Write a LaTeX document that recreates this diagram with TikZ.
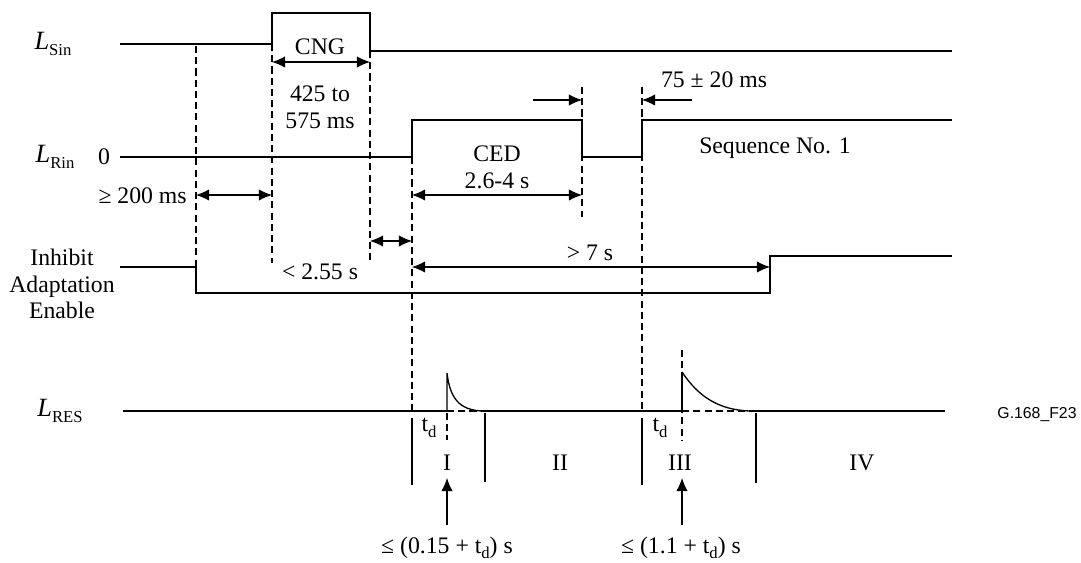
\documentclass[tikz,border=0pt]{standalone}
\usepackage{fontspec}
\setmainfont{Liberation Serif}
\newfontfamily\figsans{Liberation Sans}
\usetikzlibrary{arrows.meta}

\newcommand{\lvl}[2]{\textit{#1}\raisebox{-0.6ex}{\fontsize{9.5}{10}\selectfont #2}}
\newcommand{\tdel}{t\raisebox{-0.5ex}{\fontsize{9.5}{10}\selectfont d}}

\tikzset{
  wave/.style={line width=0.75pt},
  guide/.style={line width=0.6pt, dash pattern=on 4pt off 2.4pt},
  span/.style={{Latex[length=7.5pt,width=6.5pt]}-{Latex[length=7.5pt,width=6.5pt]}, line width=0.6pt},
  push/.style={-{Latex[length=7.5pt,width=6.5pt]}, line width=0.6pt},
  lbl/.style={inner sep=0pt, align=center, font=\fontsize{13.5}{15.3}\selectfont},
}

\begin{document}
\begin{tikzpicture}[x=0.02cm, y=-0.02cm]

    \useasboundingbox (0,0) rectangle (1081,563);

    % signal names
    \node[lbl] (sin) at (53,44) {\lvl{\fontsize{15}{16}\selectfont L}{Sin}};
    \node[lbl] (rin) at (55,157) {\lvl{\fontsize{15}{16}\selectfont L}{Rin}};
    \node[lbl] (zero) at (104,157) {0};
    \node[lbl] (inh) at (62,284) {Inhibit\\Adaptation\\Enable};
    \node[lbl] (res) at (60,411) {\lvl{\fontsize{15}{16}\selectfont L}{RES}};

    % waveforms
    \draw[wave] (120,44) -- (272,44) -- (272,13) -- (370,13) -- (370,51) -- (952,51);
    \draw[wave] (120,157) -- (412,157) -- (412,120) -- (582,120) -- (582,157)
      -- (642,157) -- (642,120) -- (952,120);
    \draw[wave] (120,267) -- (196,267) -- (196,293) -- (770,293) -- (770,256) -- (952,256);

    \draw[wave] (123,411) -- (447,411);
    \draw[guide] (447,411) -- (482,411);
    \draw[line width=1.2pt] (482,411) -- (682,411);
    \draw[guide] (682,411) -- (750,411);
    \draw[wave] (750,411) -- (945,411);
    \draw[wave] (447,411) -- (447,373) .. controls (450,398) and (459,410) .. (482,411);
    \draw[line width=1.1pt] (682,411) -- (682,379);
    \draw[wave] (682,372) .. controls (698,396) and (718,410) .. (750,411);

    % time marks
    \draw[guide] (196,46) -- (196,267);
    \draw[guide] (272,44) -- (272,263);
    \draw[guide] (370,51) -- (370,263);
    \draw[guide] (412,157) -- (412,411);
    \draw[guide] (582,87) -- (582,217);
    \draw[guide] (642,87) -- (642,411);
    \draw[guide] (447,413) -- (447,440);
    \draw[guide] (682,350) -- (682,440);

    \draw[line width=1.1pt] (412,418) -- (412,485);
    \draw[line width=1.1pt] (642,418) -- (642,485);
    \draw[wave] (485,413) -- (485,482);
    \draw[wave] (756,413) -- (756,483);

    % durations
    \coordinate (cngA) at (272,62);
    \coordinate (cngB) at (370,62);
    \draw[span] (cngA) -- (cngB);
    \node[lbl] (cng) at (320,47) {CNG};
    \node[lbl] (cngT) at (320,107) {425 to\\575 ms};

    \coordinate (waitA) at (196,195);
    \coordinate (waitB) at (272,195);
    \draw[span] (waitA) -- (waitB);
    \node[lbl, anchor=east] (wait) at (187,196) {≥ 200 ms};

    \coordinate (cedA) at (412,195);
    \coordinate (cedB) at (582,195);
    \draw[span] (cedA) -- (cedB);
    \node[lbl] (ced) at (497,167) {CED\\2.6-4 s};

    \coordinate (gapA) at (370,241);
    \coordinate (gapB) at (412,241);
    \draw[span] (gapA) -- (gapB);
    \node[lbl] (gap) at (320,272) {< 2.55 s};

    \coordinate (holdA) at (412,267);
    \coordinate (holdB) at (770,267);
    \draw[span] (holdA) -- (holdB);
    \node[lbl] (hold) at (590,253) {> 7 s};

    \coordinate (pauseA) at (533,100);
    \coordinate (pauseB) at (582,100);
    \coordinate (pauseC) at (692,100);
    \coordinate (pauseD) at (642,100);
    \draw[push] (pauseA) -- (pauseB);
    \draw[push] (pauseC) -- (pauseD);
    \node[lbl] (pause) at (714,80) {75 ± 20 ms};

    \node[lbl] (seq) at (775,148) {Sequence No. 1};

    % phases of the residual
    \node[lbl] (tdA) at (429,428) {\tdel};
    \node[lbl] (tdB) at (660,428) {\tdel};
    \node[lbl] (ph1) at (447,463) {I};
    \node[lbl] (ph2) at (560,463) {II};
    \node[lbl] (ph3) at (680,463) {III};
    \node[lbl] (ph4) at (862,463) {IV};

    \node[lbl] (limA) at (447,548) {≤ (0.15 + \tdel) s};
    \node[lbl] (limB) at (681,548) {≤ (1.1 + \tdel) s};
    \coordinate (upA) at (447,478);
    \coordinate (upB) at (682,478);
    \draw[push] (limA.north -| upA) ++(0,-12) -- (upA);
    \draw[push] (limB.north -| upB) ++(0,-12) -- (upB);

    \node[inner sep=0pt, font=\figsans\fontsize{9}{10}\selectfont] (fig) at (1037,415) {G.168\_F23};

  \end{tikzpicture}
\end{document}
